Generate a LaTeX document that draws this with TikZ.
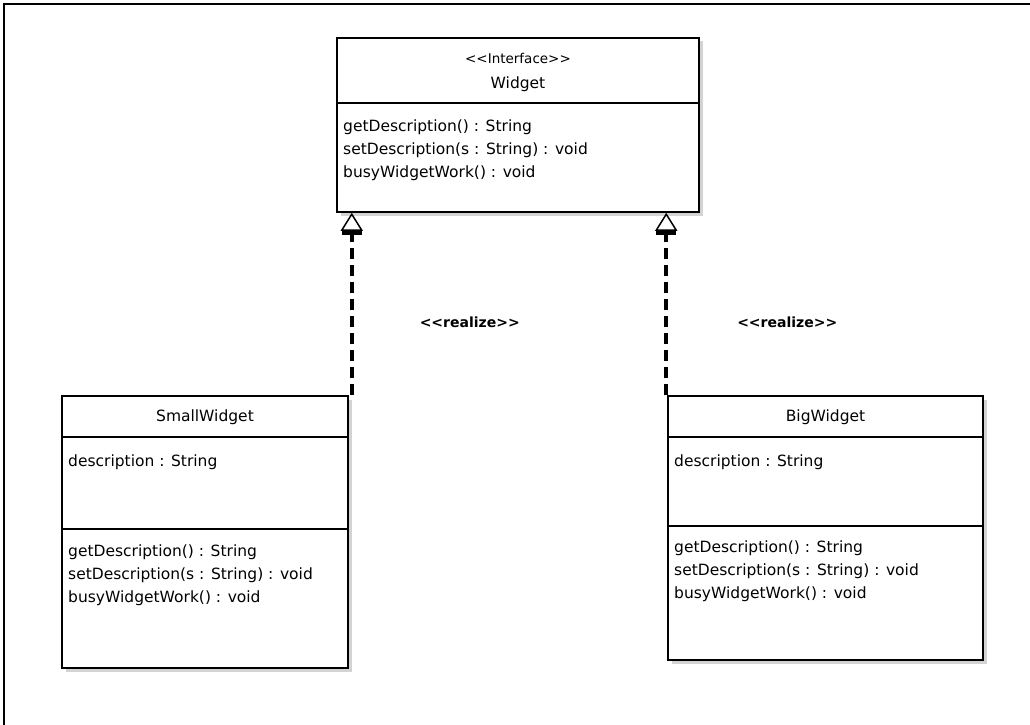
\documentclass[tikz,border=0pt]{standalone}
\usepackage{fontspec}
\setmainfont{DejaVu Sans}
\usetikzlibrary{arrows.meta, shadows, positioning}
\NewDocumentCommand{\stereo}{m}{<\kern0pt<#1>\kern0pt>}

\begin{document}
\begin{tikzpicture}[x=1pt, y=-1pt,
    box/.style = {draw, line width=1.5pt, fill=white, inner sep=0pt,
        drop shadow={shadow xshift=3.5pt, shadow yshift=-3.5pt, opacity=0.35}},
    divider/.style = {line width=1.2pt},
    title/.style = {inner sep=0pt, font=\fontsize{15.5}{18}\selectfont},
    stereotype/.style = {inner sep=0pt, font=\fontsize{13.5}{15}\selectfont},
    members/.style = {anchor=north west, align=left, inner sep=0pt,
        font=\fontsize{15.5}{23}\selectfont},
    realize/.style = {line width=4pt, dash pattern=on 11pt off 6pt,
        -{Bar[width=20pt, line width=4pt] Triangle[open, width=22pt, length=18pt, line width=1.5pt]}},
    realizelabel/.style = {inner sep=0pt, font=\bfseries\fontsize{14}{16}\selectfont}]
    \useasboundingbox (0,0) rectangle (1030,725);
    \draw[line width=2.5pt] (1030,4) -- (4,4) -- (4,725);

    % interface
    \node[box, minimum width=362pt, minimum height=174pt] (widget) at (518,125) {};
    \draw[divider] (widget.west |- 0,103) -- (widget.east |- 0,103);
    \node[stereotype] (widgetst) at (518,58) {\stereo{Interface}};
    \node[title] (widgetname) at (518,84) {Widget};
    \node[members] (widgetops) at (343,120) {getDescription() : String\\ setDescription(s : String) : void\\ busyWidgetWork() : void};

    % small widget
    \node[box, minimum width=286pt, minimum height=272pt] (small) at (205,532) {};
    \draw[divider] (small.west |- 0,437) -- (small.east |- 0,437);
    \draw[divider] (small.west |- 0,529) -- (small.east |- 0,529);
    \node[title] (smallname) at (205,417) {SmallWidget};
    \node[members] (smallattr) at (68,455) {description : String};
    \node[members] (smallops) at (68,545) {getDescription() : String\\ setDescription(s : String) : void\\ busyWidgetWork() : void};

    % big widget
    \node[box, minimum width=315pt, minimum height=264pt] (big) at (825.5,528) {};
    \draw[divider] (big.west |- 0,437) -- (big.east |- 0,437);
    \draw[divider] (big.west |- 0,526) -- (big.east |- 0,526);
    \node[title] (bigname) at (825.5,417) {BigWidget};
    \node[members] (bigattr) at (674,455) {description : String};
    \node[members] (bigops) at (674,541) {getDescription() : String\\ setDescription(s : String) : void\\ busyWidgetWork() : void};

    \draw[realize] ([xshift=3pt]small.north east) -- ([xshift=3pt]small.north east |- widget.south)
        node[realizelabel, pos=0.4, xshift=118pt] (realizesmall) {\stereo{realize}};
    \draw[realize] ([xshift=-1pt]big.north west) -- ([xshift=-1pt]big.north west |- widget.south)
        node[realizelabel, pos=0.4, xshift=121pt] (realizebig) {\stereo{realize}};
\end{tikzpicture}
\end{document}
